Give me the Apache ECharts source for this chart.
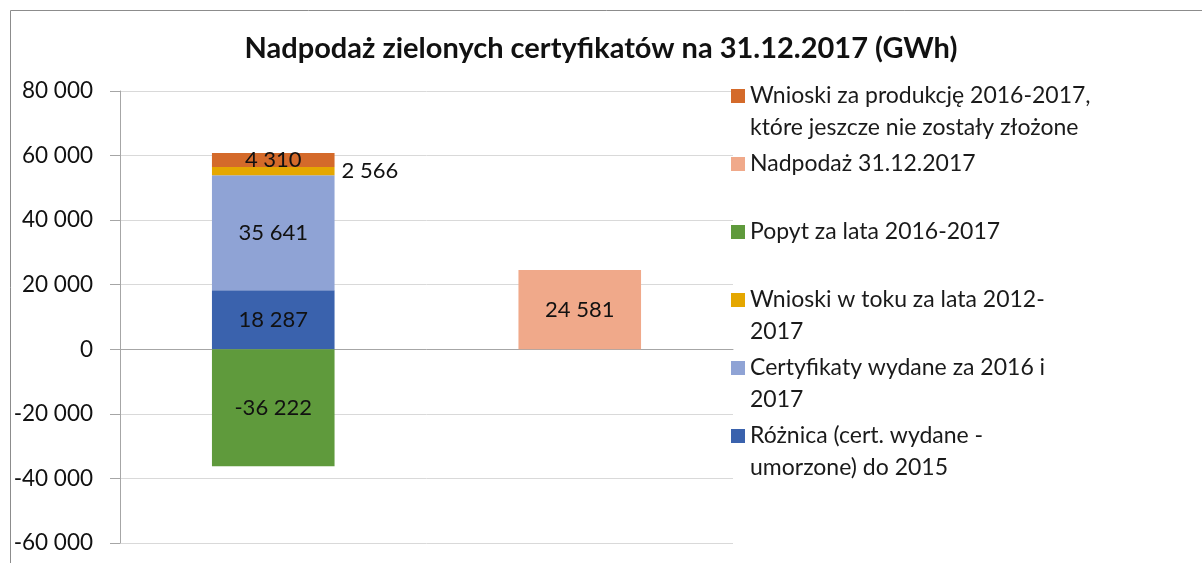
<!DOCTYPE html>
<html>
<head>
<meta charset="utf-8">
<script src="https://cdn.jsdelivr.net/npm/echarts@6/dist/echarts.min.js"></script>
<style>
  html, body { margin: 0; padding: 0; background: #fff; }
  #chart { width: 1202px; height: 563px; }
</style>
</head>
<body>
<div id="chart"></div>
<script>
// kategorie (bez opisów na osi)
const categories = ['Bilans', 'Nadpodaż']
// serie w kolejności stosu (od dołu)
const seriesNames = [
  'Różnica (cert. wydane - umorzone) do 2015',
  'Certyfikaty wydane za 2016 i 2017',
  'Wnioski w toku za lata 2012-2017',
  'Wnioski za produkcję 2016-2017, które jeszcze nie zostały złożone',
  'Popyt za lata 2016-2017',
  'Nadpodaż 31.12.2017'
]
const roznica = [18287, null]
const certyfikaty = [35641, null]
const wnioskiWToku = [2566, null]
const wnioskiZaProdukcje = [4310, null]
const popyt = [-36222, null]
const nadpodaz = [null, 24581]
const seriesColors = ['#3A62AD', '#8FA3D5', '#E5A700', '#D46A2A', '#5F9A3C', '#F0A98A']
// kolejność legendy (od góry) i zawinięte opisy
const legendOrder = [3, 5, 4, 2, 1, 0]
const legendLabels = {
  3: 'Wnioski za produkcję 2016-2017,\nktóre jeszcze nie zostały złożone',
  5: 'Nadpodaż 31.12.2017',
  4: 'Popyt za lata 2016-2017',
  2: 'Wnioski w toku za lata 2012-\n2017',
  1: 'Certyfikaty wydane za 2016 i\n2017',
  0: 'Różnica (cert. wydane -\numorzone) do 2015'
}
const yTicks = { min: -60000, max: 80000, interval: 20000 }

const FONT = 'Lato'
const LINE_H = 32

function fmt (v) {
  let s = String(Math.abs(v)).replace(/\B(?=(\d{3})+(?!\d))/g, ' ')
  return (v < 0 ? '-' : '') + s
}

let myChart = echarts.init(document.getElementById('chart'))

const dataSets = [roznica, certyfikaty, wnioskiWToku, wnioskiZaProdukcje, popyt, nadpodaz]

let series = dataSets.map((d, i) => ({
  name: seriesNames[i],
  type: 'bar',
  stack: 'total',
  barCategoryGap: '60%',
  data: d,
  itemStyle: { color: seriesColors[i] },
  label: {
    show: true,
    position: i === 2 ? 'right' : 'inside',
    distance: 7,
    color: '#111',
    fontFamily: FONT,
    fontSize: 22,
    formatter: p => p.value == null ? '' : fmt(p.value)
  }
}))

// jedna legenda na pozycję, żeby zachować stały odstęp;
// przy dwóch wierszach pusty wiersz na górze wyrównuje ikonę z pierwszym wierszem
const iconCenters = [96, 164, 232, 300, 368, 436]
let legends = legendOrder.map((idx, k) => {
  let twoLine = legendLabels[idx].indexOf('\n') >= 0
  return {
    left: 731,
    top: twoLine ? iconCenters[k] - LINE_H * 1.5 : iconCenters[k] - LINE_H / 2,
    padding: 0,
    orient: 'vertical',
    icon: 'rect',
    itemWidth: 14,
    itemHeight: 14,
    selectedMode: false,
    data: [seriesNames[idx]],
    formatter: () => (twoLine ? ' \n' : '') + legendLabels[idx],
    textStyle: {
      fontFamily: FONT,
      fontSize: 23,
      color: '#1a1a1a',
      lineHeight: LINE_H
    }
  }
})

myChart.setOption({
  animation: false,
  title: {
    text: 'Nadpodaż zielonych certyfikatów na 31.12.2017 (GWh)',
    left: 'center',
    top: 34,
    padding: [0, 0, 0, 22],
    textStyle: {
      fontFamily: FONT,
      fontWeight: 'bold',
      fontSize: 29,
      color: '#111'
    }
  },
  graphic: [{
    type: 'rect',
    shape: { x: 10.5, y: 10.5, width: 1200, height: 560 },
    style: { fill: null, stroke: '#8c8c8c', lineWidth: 1 },
    silent: true
  }],
  legend: legends,
  grid: {
    left: 120,
    right: 469,
    top: 91,
    bottom: 20,
    containLabel: false
  },
  xAxis: {
    type: 'category',
    data: categories,
    axisLabel: { show: false },
    axisTick: { show: false },
    axisLine: { show: true, onZero: true, lineStyle: { color: '#a6a6a6', width: 1 } },
    splitLine: { show: false }
  },
  yAxis: {
    type: 'value',
    min: yTicks.min,
    max: yTicks.max,
    interval: yTicks.interval,
    axisLine: { show: true, lineStyle: { color: '#a6a6a6', width: 1 } },
    axisTick: { show: true, length: 10, lineStyle: { color: '#a6a6a6' } },
    axisLabel: {
      margin: 27,
      fontFamily: FONT,
      fontSize: 22.5,
      color: '#111',
      formatter: v => fmt(v)
    },
    splitLine: { show: true, lineStyle: { color: '#d9d9d9', width: 1 } }
  },
  series: series
})
</script>
</body>
</html>
